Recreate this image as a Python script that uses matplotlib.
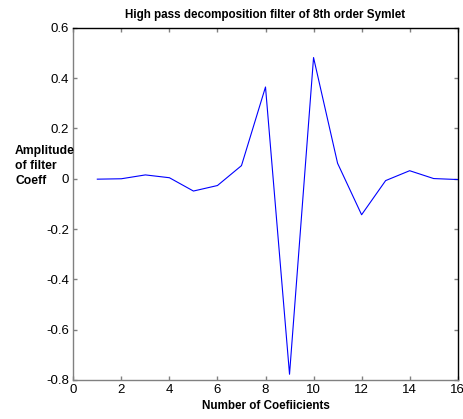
import matplotlib
matplotlib.use("Agg")
import matplotlib.pyplot as plt

coef_index = [1, 2, 3, 4, 5, 6, 7, 8, 9, 10, 11, 12, 13, 14, 15, 16]
amplitude = [-0.0019, -0.0003, 0.0150, 0.0038, -0.0491, -0.0272, 0.0519, 0.3644,
             -0.7772, 0.4814, 0.0613, -0.1433, -0.0076, 0.0317, 0.0005, -0.0034]
xticks = [0, 2, 4, 6, 8, 10, 12, 14, 16]
yticks = [-0.8, -0.6, -0.4, -0.2, 0, 0.2, 0.4, 0.6]
ytick_labels = ["-0.8", "-0.6", "-0.4", "-0.2", "0", "0.2", "0.4", "0.6"]

plt.rcParams["font.family"] = ["Liberation Sans", "DejaVu Sans"]

fig = plt.figure(figsize=(4.63, 4.19), dpi=100)
ax = fig.add_axes([73.3 / 463, 1 - 380 / 419, (457.7 - 73.3) / 463, (380 - 27.7) / 419])
ax.plot(coef_index, amplitude, color="#0000ff", linewidth=0.8)
ax.set_xlim(0, 16)
ax.set_ylim(-0.8, 0.6)
ax.set_xticks(xticks)
ax.set_xticklabels([str(v) for v in xticks])
ax.set_yticks(yticks)
ax.set_yticklabels(ytick_labels)
ax.tick_params(direction="in", length=3, width=1, color="#808080", labelsize=9.5,
               top=True, right=True, pad=3)
for s in ["left", "bottom"]:
    ax.spines[s].set_color("#808080")
for s in ["top", "right"]:
    ax.spines[s].set_color("black")
for s in ax.spines.values():
    s.set_linewidth(1)

ax.set_title("High pass decomposition filter of 8th order Symlet",
             fontsize=8.4, fontweight="bold", pad=7)
ax.set_xlabel("Number of Coefiicients", fontsize=8.4, fontweight="bold", labelpad=3)
fig.text(15 / 463, 1 - 166 / 419, "Amplitude\nof filter\nCoeff", fontsize=8.7,
         fontweight="bold", ha="left", va="center", linespacing=1.35)

fig.savefig("out.png", dpi=100)
